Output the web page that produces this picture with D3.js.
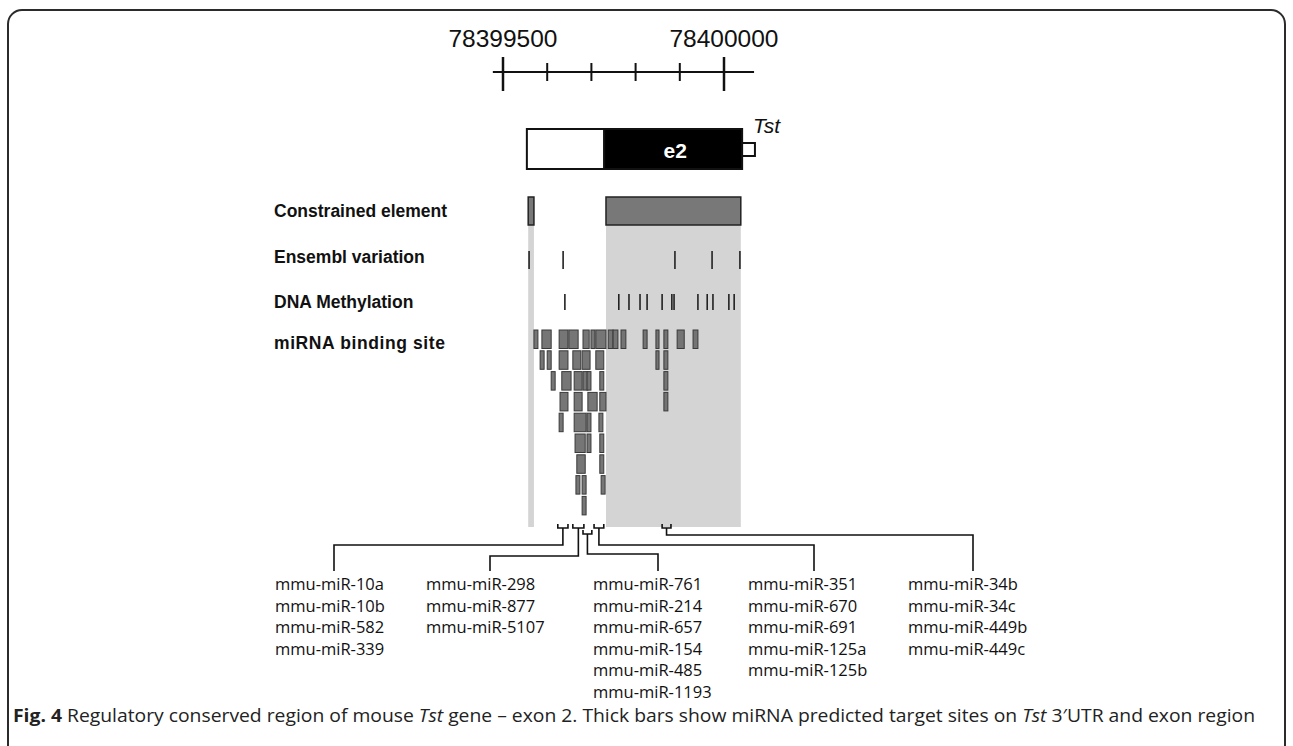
<!DOCTYPE html>
<html lang="en">
<head>
<meta charset="UTF-8">
<script src="https://d3js.org/d3.v7.min.js"></script>
<title>Tst exon 2</title>
<style>
    body { margin: 0; background: #fff; }
    text { font-family: "Liberation Sans", Arial, sans-serif; fill: #111; }
    text.track { font-weight: bold; font-size: 17.5px; }
    text.mir { font-family: "Open Sans", sans-serif; font-size: 16.5px; }
    text.caption { font-family: "Open Sans", sans-serif; font-size: 17.5px; fill: #222; }
</style>
</head>
<body>
<svg width="1293" height="746"></svg>
<script>
    // genomic positions; track features are offsets from ORIGIN
    const ORIGIN = 78399500;
    const axisTicks = [78399500, 78399600, 78399700, 78399800, 78399900, 78400000];
    const axisLabels = [78399500, 78400000];
    const axisSpan = [78399477, 78400068];
    const utr = [78399554, 78399729];
    const exon = [78399729, 78400041];
    const intron = [78400041, 78400070];

    const trackNames = ["Constrained element", "Ensembl variation", "DNA Methylation", "miRNA binding site"];
    const constrained = [[57, 70], [233, 538]];
    const variation = [59, 136, 389, 473, 536];
    const methylation = [140, 262, 285, 310, 326, 360, 382, 387, 441, 462, 475, 511, 523];
    const mirnaRows = [
        [[70,79],[88,109],[127,147],[149,170],[181,195],[199,208],[210,233],[238,249],[249,260],[267,278],[317,326],[346,353],[364,373],[394,410],[430,441]],
        [[84,93],[100,109],[127,147],[158,176],[179,197],[210,228],[346,353],[364,373]],
        [[109,118],[133,154],[161,179],[181,192],[190,199],[219,228],[364,373]],
        [[129,147],[161,179],[192,213],[219,233],[364,373]],
        [[127,136],[161,188],[190,199],[217,226]],
        [[163,186],[190,199],[219,228]],
        [[167,186],[219,228]],
        [[165,174],[179,188],[222,231]],
        [[179,188]]
    ];
    const siteGroups = [[124,147],[158,183],[181,201],[206,228],[360,380]];
    const groupMirnas = [
        ["mmu-miR-10a", "mmu-miR-10b", "mmu-miR-582", "mmu-miR-339"],
        ["mmu-miR-298", "mmu-miR-877", "mmu-miR-5107"],
        ["mmu-miR-761", "mmu-miR-214", "mmu-miR-657", "mmu-miR-154", "mmu-miR-485", "mmu-miR-1193"],
        ["mmu-miR-351", "mmu-miR-670", "mmu-miR-691", "mmu-miR-125a", "mmu-miR-125b"],
        ["mmu-miR-34b", "mmu-miR-34c", "mmu-miR-449b", "mmu-miR-449c"]
    ];

    // layout of the callouts
    const labelX = [275, 426, 593, 748, 908];
    const dropX = [334, 490, 658, 814, 973];
    const elbowY = [545, 556, 554, 545, 535];
    const bracketShift = [0, 0, 6, 0, 0];

    const svg = d3.select("svg");
    const x = d3.scaleLinear().domain([78399500, 78400000]).range([503, 724]);
    const xo = d => x(ORIGIN + d);

    // frame
    svg.append("rect").attr("x", 8).attr("y", 10).attr("width", 1277).attr("height", 760)
        .attr("rx", 14).attr("fill", "none").attr("stroke", "#2b2b2b").attr("stroke-width", 2);

    // coordinate ruler
    const axisY = 72;
    svg.append("line").attr("x1", x(axisSpan[0])).attr("x2", x(axisSpan[1]))
        .attr("y1", axisY).attr("y2", axisY).attr("stroke", "#111").attr("stroke-width", 2);
    svg.selectAll("line.tick").data(axisTicks).enter().append("line").attr("class", "tick")
        .attr("x1", x).attr("x2", x)
        .attr("y1", d => axisLabels.includes(d) ? axisY - 15 : axisY - 9)
        .attr("y2", d => axisLabels.includes(d) ? axisY + 19 : axisY + 9)
        .attr("stroke", "#111").attr("stroke-width", d => axisLabels.includes(d) ? 2.5 : 2);
    svg.selectAll("text.axis").data(axisLabels).enter().append("text").attr("class", "axis")
        .attr("x", x).attr("y", 47).attr("text-anchor", "middle").attr("font-size", 24.5)
        .text(d => d);

    // gene model
    svg.append("rect").attr("x", x(utr[0])).attr("y", 129).attr("width", x(utr[1]) - x(utr[0])).attr("height", 40)
        .attr("fill", "#fff").attr("stroke", "#111").attr("stroke-width", 2);
    svg.append("rect").attr("x", x(exon[0])).attr("y", 129).attr("width", x(exon[1]) - x(exon[0])).attr("height", 40)
        .attr("fill", "#000").attr("stroke", "#111").attr("stroke-width", 2);
    svg.append("rect").attr("x", x(intron[0])).attr("y", 143).attr("width", x(intron[1]) - x(intron[0])).attr("height", 13)
        .attr("fill", "#fff").attr("stroke", "#111").attr("stroke-width", 2);
    svg.append("text").attr("x", (x(exon[0]) + x(exon[1])) / 2 + 2).attr("y", 158).attr("text-anchor", "middle")
        .attr("font-size", 21).attr("font-weight", "bold").style("fill", "#fff").text("e2");
    svg.append("text").attr("x", x(intron[1]) - 2).attr("y", 133).attr("font-size", 21)
        .attr("font-style", "italic").text("Tst");

    // shading under conserved elements
    svg.selectAll("rect.shade").data(constrained).enter().append("rect").attr("class", "shade")
        .attr("x", d => xo(d[0])).attr("width", d => xo(d[1]) - xo(d[0]))
        .attr("y", 210).attr("height", 317).attr("fill", "#d4d4d4");

    // track labels
    const labelY = [217, 263, 308, 349];
    svg.selectAll("text.track").data(trackNames).enter().append("text").attr("class", "track")
        .attr("x", 274).attr("y", (d, i) => labelY[i])
        .attr("letter-spacing", (d, i) => i === 3 ? 0.6 : 0).text(d => d);

    svg.selectAll("rect.cons").data(constrained).enter().append("rect").attr("class", "cons")
        .attr("x", d => xo(d[0])).attr("width", d => xo(d[1]) - xo(d[0]))
        .attr("y", 197).attr("height", 28).attr("fill", "#787878").attr("stroke", "#222").attr("stroke-width", 1.5);

    svg.selectAll("line.var").data(variation).enter().append("line").attr("class", "var")
        .attr("x1", xo).attr("x2", xo).attr("y1", 251).attr("y2", 269)
        .attr("stroke", "#222").attr("stroke-width", 1.6);

    svg.selectAll("line.meth").data(methylation).enter().append("line").attr("class", "meth")
        .attr("x1", xo).attr("x2", xo).attr("y1", 294).attr("y2", 310)
        .attr("stroke", "#222").attr("stroke-width", 1.6);

    // miRNA binding sites
    const rowY = d3.scaleLinear().domain([0, 1]).range([330, 350.8]);
    mirnaRows.forEach((row, r) => {
        svg.selectAll("rect.row" + r).data(row).enter().append("rect").attr("class", "row" + r)
            .attr("x", d => xo(d[0])).attr("width", d => xo(d[1]) - xo(d[0]))
            .attr("y", rowY(r)).attr("height", 18.5)
            .attr("fill", "#6f6f6f").attr("fill-opacity", 0.95)
            .attr("stroke", "#3a3a3a").attr("stroke-width", 1);
    });

    // callouts
    siteGroups.forEach((s, i) => {
        const x0 = xo(s[0]), x1 = xo(s[1]), xc = (x0 + x1) / 2;
        const top = 524 + bracketShift[i], bot = top + 4;
        svg.append("path").attr("d", `M${x0},${top}V${bot}H${x1}V${top}`)
            .attr("fill", "none").attr("stroke", "#111").attr("stroke-width", 1.6);
        svg.append("path").attr("d", `M${xc},${bot}V${elbowY[i]}H${dropX[i]}V571`)
            .attr("fill", "none").attr("stroke", "#111").attr("stroke-width", 1.6);
        svg.append("g").selectAll("text").data(groupMirnas[i]).enter().append("text").attr("class", "mir")
            .attr("x", labelX[i]).attr("y", (d, j) => 590 + j * 21.5).text(d => d);
    });

    // caption
    const cap = svg.append("text").attr("class", "caption").attr("x", 13).attr("y", 722)
        .attr("textLength", 1242).attr("lengthAdjust", "spacingAndGlyphs");
    cap.append("tspan").attr("font-weight", "bold").text("Fig. 4");
    cap.append("tspan").text(" Regulatory conserved region of mouse ");
    cap.append("tspan").attr("font-style", "italic").text("Tst");
    cap.append("tspan").text(" gene \u2013 exon 2. Thick bars show miRNA predicted target sites on ");
    cap.append("tspan").attr("font-style", "italic").text("Tst");
    cap.append("tspan").text(" 3\u2032UTR and exon region");
</script>
</body>
</html>
